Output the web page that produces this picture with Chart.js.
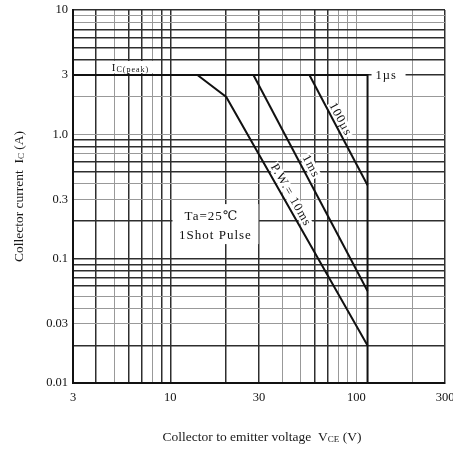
<!DOCTYPE html>
<html>
<head>
<meta charset="utf-8">
<script src="https://cdn.jsdelivr.net/npm/chart.js@4/dist/chart.umd.min.js"></script>
<style>
  html, body { margin: 0; padding: 0; background: #fff; }
  #soaChart { display: block; }
</style>
</head>
<body>
<canvas id="soaChart" width="453" height="451"></canvas>
<script>
// Grid positions and labelled ticks
const xGrid = [3, 4, 5, 6, 7, 8, 9, 10, 20, 30, 40, 50, 60, 70, 80, 90, 100, 200, 300];
const xLabels = [3, 10, 30, 100, 300];
const yGrid = [0.01, 0.02, 0.03, 0.04, 0.05, 0.06, 0.07, 0.08, 0.09,
  0.1, 0.2, 0.3, 0.4, 0.5, 0.6, 0.7, 0.8, 0.9,
  1, 2, 3, 4, 5, 6, 7, 8, 9, 10];
const yLabels = [10, 3, 1, 0.3, 0.1, 0.03, 0.01];

// SOA boundaries: collector-emitter voltage (V) / collector current (A)
const peakV = [3, 115, 115];
const peakI = [3, 3, 0.01];
const pw10msV = [14, 20, 115];
const pw10msI = [3, 2, 0.02];
const pw1msV = [28, 115];
const pw1msI = [3, 0.055];
const pw100usV = [56, 115];
const pw100usI = [3, 0.39];

// lighter (dotted in the print) grid lines
const lightX = [5, 8, 40, 50, 80, 90, 100, 200];
const lightY = [9, 8, 2, 1, 0.7, 0.4, 0.3, 0.05, 0.04, 0.03];

const SERIF = "'Liberation Serif', 'DejaVu Serif', serif";

function curve(label, xs, ys) {
  return {
    label: label,
    data: xs.map((v, i) => ({ x: v, y: ys[i] })),
    showLine: true,
    borderColor: "#111",
    borderWidth: 2,
    pointRadius: 0,
    fill: false,
    tension: 0,
  };
}

function isLight(c, list) {
  return c.tick && list.includes(c.tick.value);
}

// draws text made of pieces (for subscripts)
function richText(ctx, parts, x, y, align) {
  let w = 0;
  parts.forEach((p) => {
    ctx.font = `${p.size}px ${SERIF}`;
    w += ctx.measureText(p.t).width;
  });
  let cx = align === "center" ? x - w / 2 : x;
  parts.forEach((p) => {
    ctx.font = `${p.size}px ${SERIF}`;
    ctx.fillText(p.t, cx, y + (p.dy || 0));
    cx += ctx.measureText(p.t).width;
  });
  return w;
}

// label placed along a segment of a curve
function alongLine(chart, xs, ys, seg, frac, off, text, size, boxOnly) {
  const sx = chart.scales.x, sy = chart.scales.y, ctx = chart.ctx;
  const x1 = sx.getPixelForValue(xs[seg]), y1 = sy.getPixelForValue(ys[seg]);
  const x2 = sx.getPixelForValue(xs[seg + 1]), y2 = sy.getPixelForValue(ys[seg + 1]);
  const ang = Math.atan2(y2 - y1, x2 - x1);
  const px = x1 + (x2 - x1) * frac, py = y1 + (y2 - y1) * frac;
  const cx = px + Math.sin(ang) * off, cy = py - Math.cos(ang) * off;
  ctx.save();
  ctx.translate(cx, cy);
  ctx.rotate(ang);
  ctx.font = `${size}px ${SERIF}`;
  ctx.letterSpacing = "1px";
  const w = ctx.measureText(text).width;
  if (boxOnly) {
    ctx.fillStyle = "#fff";
    ctx.fillRect(-w / 2 - 1, -size * 0.45, w + 2, size * 0.9);
  } else {
    ctx.fillStyle = "#111";
    ctx.textAlign = "center";
    ctx.textBaseline = "middle";
    ctx.fillText(text, 0, 0);
  }
  ctx.restore();
}

const textPlugin = {
  id: "soaText",
  beforeDatasetsDraw(chart) {
    const ctx = chart.ctx, sx = chart.scales.x, sy = chart.scales.y;
    ctx.save();
    ctx.fillStyle = "#fff";
    // I_C(peak)
    ctx.fillRect(sx.getPixelForValue(4.85) - 1, sy.getPixelForValue(3) - 14, 50, 12);
    // 1us
    ctx.fillRect(sx.getPixelForValue(115) + 4, sy.getPixelForValue(3) - 7, 34, 14);
    // Ta / 1Shot Pulse
    ctx.fillRect(sx.getPixelForValue(17.5) - 43, sy.getPixelForValue(0.22) - 12, 86, 40);
    ctx.restore();
    alongLine(chart, pw100usV, pw100usI, 0, 0.43, 6.5, "100\u00b5s", 12.5, true);
    alongLine(chart, pw1msV, pw1msI, 0, 0.44, 8, "1ms", 12.5, true);
    alongLine(chart, pw10msV, pw10msI, 1, 0.41, 7.5, "P.W.= 10ms", 12.5, true);
  },
  afterDatasetsDraw(chart) {
    const ctx = chart.ctx, sx = chart.scales.x, sy = chart.scales.y;
    ctx.save();
    ctx.fillStyle = "#111";
    ctx.textBaseline = "alphabetic";
    ctx.letterSpacing = "1px";
    richText(ctx, [{ t: "I", size: 11 }, { t: "C(peak)", size: 8, dy: 1 }],
      sx.getPixelForValue(4.85), sy.getPixelForValue(3) - 4, "left");
    ctx.font = `12.5px ${SERIF}`;
    ctx.textBaseline = "middle";
    ctx.fillText("1\u00b5s", sx.getPixelForValue(115) + 8, sy.getPixelForValue(3) + 1);
    ctx.font = `13px ${SERIF}`;
    ctx.textAlign = "center";
    const tx = sx.getPixelForValue(17.5), ty = sy.getPixelForValue(0.22);
    ctx.fillText("Ta=25\u2103", tx - 4, ty);
    ctx.fillText("1Shot Pulse", tx, ty + 19);
    ctx.restore();
    alongLine(chart, pw100usV, pw100usI, 0, 0.43, 6.5, "100\u00b5s", 12.5, false);
    alongLine(chart, pw1msV, pw1msI, 0, 0.44, 8, "1ms", 12.5, false);
    alongLine(chart, pw10msV, pw10msI, 1, 0.41, 7.5, "P.W.= 10ms", 12.5, false);
  },
  afterDraw(chart) {
    const ctx = chart.ctx, a = chart.chartArea;
    ctx.save();
    ctx.fillStyle = "#1a1a1a";
    ctx.textBaseline = "middle";
    // x axis title
    richText(ctx, [
      { t: "Collector to emitter voltage  V", size: 13.5 },
      { t: "CE", size: 9, dy: 3 },
      { t: " (V)", size: 13.5 },
    ], (a.left + a.right) / 2 + 3, 437, "center");
    // y axis title
    ctx.translate(19, (a.top + a.bottom) / 2);
    ctx.rotate(-Math.PI / 2);
    richText(ctx, [
      { t: "Collector current  I", size: 13.5 },
      { t: "C", size: 9, dy: 3 },
      { t: " (A)", size: 13.5 },
    ], 0, 0, "center");
    ctx.restore();
  },
};

const soaCtx = document.getElementById("soaChart").getContext("2d");
new Chart(soaCtx, {
  type: "scatter",
  data: {
    datasets: [
      curve("IC(peak) / 1\u00b5s", peakV, peakI),
      curve("P.W.=10ms", pw10msV, pw10msI),
      curve("1ms", pw1msV, pw1msI),
      curve("100\u00b5s", pw100usV, pw100usI),
    ],
  },
  options: {
    responsive: false,
    animation: false,
    layout: { padding: { top: 10, right: 8, left: 0, bottom: 0 } },
    plugins: {
      legend: { display: false },
      tooltip: { enabled: false },
    },
    scales: {
      x: {
        type: "logarithmic",
        min: 3,
        max: 300,
        afterBuildTicks: (s) => {
          s.ticks = xGrid.map((v) => ({ value: v }));
        },
        afterFit: (s) => {
          s.height = 68;
          s.paddingLeft = 0;
          s.paddingRight = 0;
        },
        ticks: {
          autoSkip: false,
          maxRotation: 0,
          padding: 7,
          color: "#111",
          font: { family: SERIF, size: 12.5 },
          callback: (v) => (xLabels.includes(v) ? String(v) : ""),
        },
        grid: {
          drawTicks: false,
          color: (c) => (isLight(c, lightX) ? "#999" : "#2e2e2e"),
          lineWidth: (c) => (isLight(c, lightX) ? 1 : 1.5),
        },
        border: { display: true, color: "#111", width: 2 },
      },
      y: {
        type: "logarithmic",
        min: 0.01,
        max: 10,
        afterBuildTicks: (s) => {
          s.ticks = yGrid.map((v) => ({ value: v }));
        },
        afterFit: (s) => {
          s.width = 73;
          s.paddingTop = 0;
          s.paddingBottom = 0;
        },
        ticks: {
          autoSkip: false,
          padding: 5,
          color: "#111",
          font: { family: SERIF, size: 12.5 },
          callback: (v) => (yLabels.includes(v) ? (v === 1 ? "1.0" : String(v)) : ""),
        },
        grid: {
          drawTicks: false,
          color: (c) => (isLight(c, lightY) ? "#999" : "#2e2e2e"),
          lineWidth: (c) => (isLight(c, lightY) ? 1 : 1.5),
        },
        border: { display: true, color: "#111", width: 2 },
      },
    },
  },
  plugins: [textPlugin],
});
</script>
</body>
</html>
